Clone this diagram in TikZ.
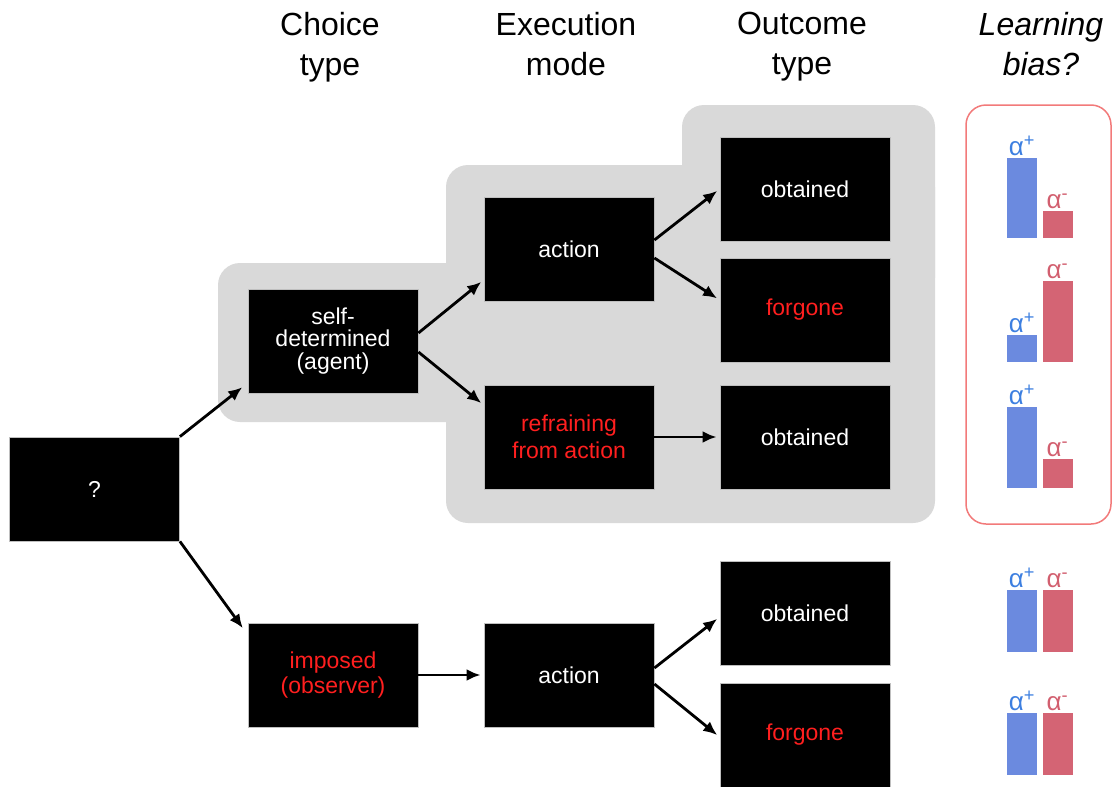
\documentclass[tikz,border=0pt]{standalone}
\usepackage{fontspec}
\setmainfont{Liberation Sans}
\usetikzlibrary{arrows.meta}
\definecolor{panelgrey}{HTML}{D9D9D9}
\definecolor{alphablue}{HTML}{3D7FE0}
\definecolor{alphared}{HTML}{D25F6F}
\definecolor{barblue}{HTML}{6B8ADF}
\definecolor{barred}{HTML}{D46474}
\definecolor{framered}{HTML}{F27A7A}
\definecolor{textred}{HTML}{FF1F1F}

\begin{document}
\begin{tikzpicture}[
  x=1pt, y=-1pt,
  box/.style={fill=black, draw=white!75!black, line width=0.8pt,
    minimum width=170pt, minimum height=104pt, inner sep=0pt,
    text=white, align=center, font=\fontsize{23}{22.5}\selectfont},
  hot/.style={text=textred},
  header/.style={align=center, inner sep=0pt, anchor=north,
    font=\fontsize{32}{40}\selectfont},
  link/.style={line width=2.8pt, -{Latex[length=14pt,width=12pt]}, shorten >=3pt},
  bar/.style={anchor=south, minimum width=30pt, inner sep=0pt},
  alab/.style={anchor=south, inner sep=2pt, font=\fontsize{26}{26}\selectfont},
]
  \useasboundingbox (0,0) rectangle (1114,787);

  % grey panel behind the self-determined branch
  \begin{scope}[panelgrey, rounded corners=22pt]
    \fill (218,263) rectangle (470,422);
    \fill (446,165) rectangle (935,523);
    \fill (682,105) rectangle (935,300);
  \end{scope}
  % red frame round the biased bars
  \draw[framered, line width=1.5pt, rounded corners=20pt] (966,105) rectangle (1111,524);

  % headers
  \node[header] (hchoice) at (330,12) {Choice\\type};
  \node[header] (hexec) at (566,12) {Execution\\mode};
  \node[header] (hout) at (802,12) {Outcome\\type};
  \node[header, font=\fontsize{32}{40}\selectfont\itshape] (hbias) at (1041,12) {Learning\\bias?};

  % boxes
  \node[box] (q) at (94.5,489) {?};
  \node[box] (self) at (333,341) {self-\\determined\\(agent)};
  \node[box, hot] (imp) at (333,675) {imposed\\[3pt](observer)};
  \node[box] (act) at (569,249) {action};
  \node[box, hot] (refr) at (569,437) {refraining\\[5pt]from action};
  \node[box] (iact) at (569,675) {action};
  \node[box] (obt1) at (805,189) {obtained};
  \node[box, hot] (forg1) at (805,310) {forgone};
  \node[box] (obt2) at (805,437) {obtained};
  \node[box] (obt3) at (805,613) {obtained};
  \node[box, hot] (forg3) at (805,735) {forgone};

  % connectors
  \draw[link] (q.north east) -- ([xshift=-3pt,yshift=8pt]self.south west);
  \draw[link] (q.south east) -- ([xshift=-3pt,yshift=-8pt]imp.north west);
  \draw[link] ([yshift=8pt]self.east) -- ([yshift=-31pt]act.west);
  \draw[link] ([yshift=-11pt]self.east) -- ([yshift=32pt]refr.west);
  \draw[link] ([yshift=9pt]act.east) -- (obt1.west);
  \draw[link] ([yshift=-9pt]act.east) -- ([yshift=10pt]forg1.west);
  \draw[link] (refr.east) -- (obt2.west);
  \draw[link] (imp.east) -- (iact.west);
  \draw[link] ([yshift=7pt]iact.east) -- ([yshift=-4pt]obt3.west);
  \draw[link] ([yshift=-9pt]iact.east) -- ([yshift=-2pt]forg3.west);

  % learning-rate bars
  \foreach \base/\hp/\hm [count=\i] in {238/80/27, 362/27/81, 488/81/29, 652/62/62, 775/62/62} {
    \node[bar, fill=barblue, minimum height=\hp pt] (bp\i) at (1022,\base) {};
    \node[bar, fill=barred, minimum height=\hm pt] (bm\i) at (1057.5,\base) {};
    \node[alab, text=alphablue] (lp\i) at (bp\i.north) {α\textsuperscript{+}};
    \node[alab, text=alphared] (lm\i) at (bm\i.north) {α\textsuperscript{-}};
  }
\end{tikzpicture}
\end{document}
